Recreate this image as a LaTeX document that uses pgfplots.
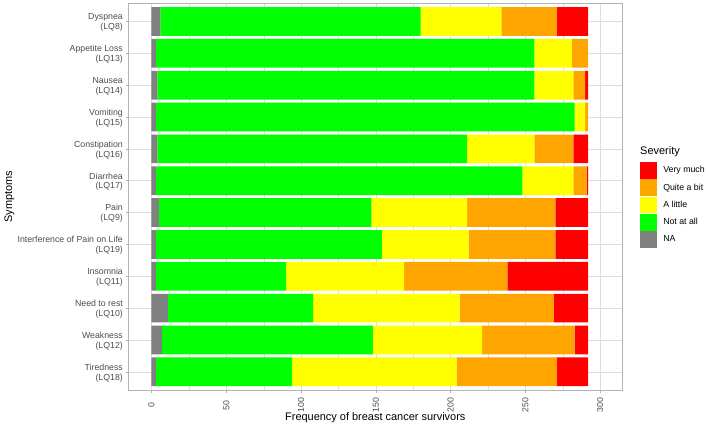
\documentclass[border=0pt]{standalone}
\usepackage{fontspec}
\setmainfont{Liberation Sans}
\usepackage{pgfplots}
\usepackage{pgfplotstable}
\pgfplotsset{compat=1.18}
\definecolor{cNA}{HTML}{808080}
\definecolor{cNot}{HTML}{00FF00}
\definecolor{cLittle}{HTML}{FFFF00}
\definecolor{cQuite}{HTML}{FFA500}
\definecolor{cVery}{HTML}{FF0000}
\definecolor{grey30}{HTML}{4D4D4D}
\definecolor{grey70}{HTML}{B3B3B3}
\definecolor{grey87}{HTML}{DEDEDE}
\pgfplotstableread{
y  NA  Not  Little  Quite  Very
0  3   91   110     67     21
1  7   141  73      62     9
2  11  97   98      63     23
3  3   87   79      69     54
4  3   151  58      58     22
5  5   142  64      59     22
6  3   245  34      9      1
7  4   207  45      26     10
8  3   280  7       2      0
9  4   252  26      8      2
10 3   253  25      11     0
11 6   174  54      37     21
}\data
\begin{document}
\begin{tikzpicture}
\path[use as bounding box] (0bp,0bp) rectangle (708bp,426bp);
\begin{axis}[
  at={(128.3bp,36bp)}, anchor=south west,
  scale only axis, width=494bp, height=386.7bp,
  xbar stacked, bar width=0.9,
  xmin=-15.5, xmax=314.8, ymin=-0.571, ymax=11.571,
  xtick={0,50,...,300}, xticklabels={0,50,100,150,200,250,300},
  minor xtick={25,75,...,275},
  ytick={0,...,11},
  yticklabels={{Tiredness\\(LQ18)},{Weakness\\(LQ12)},{Need to rest\\(LQ10)},{Insomnia\\(LQ11)},{Interference of Pain on Life\\(LQ19)},{Pain\\(LQ9)},{Diarrhea\\(LQ17)},{Constipation\\(LQ16)},{Vomiting\\(LQ15)},{Nausea\\(LQ14)},{Appetite Loss\\(LQ13)},{Dyspnea\\(LQ8)}},
  xmajorgrids, xminorgrids, ymajorgrids,
  major grid style={draw=grey87, line width=0.5bp},
  minor grid style={draw=grey87, line width=0.3bp},
  axis line style={draw=grey70, line width=0.6bp},
  tick align=outside, tick pos=left,
  major tick length=2.75bp, minor tick length=0pt,
  tick style={draw=grey70, line width=0.5bp},
  xticklabel style={yshift=-12.5bp, rotate=90, anchor=center, inner sep=0pt, font=\fontsize{8.8}{10}\selectfont, text=grey30},
  yticklabel style={align=right, anchor=east, inner xsep=0pt, xshift=-2.5bp, yshift=-1bp, font=\fontsize{8.8}{10}\selectfont, text=grey30},
  legend style={at={(1.0358,0.5904)}, anchor=north west, draw=none, fill=none,
    inner sep=0pt, outer sep=0pt, row sep=0pt,
    font=\fontsize{8.8}{10}\selectfont, text=black,
    nodes={inner sep=0pt, anchor=west}},
  legend cell align=left,
  reverse legend,
  legend image code/.code={\fill[#1] (0bp,-8.3bp) rectangle (16.6bp,8.3bp); \path[draw=none, fill=none] (0bp,-8.65bp) rectangle (23.3bp,8.65bp);},
]
\addplot[fill=cNA, draw=none] table[x=NA, y=y]{\data};
\addplot[fill=cNot, draw=none] table[x=Not, y=y]{\data};
\addplot[fill=cLittle, draw=none] table[x=Little, y=y]{\data};
\addplot[fill=cQuite, draw=none] table[x=Quite, y=y]{\data};
\addplot[fill=cVery, draw=none] table[x=Very, y=y]{\data};
\legend{NA, Not at all, A little, Quite a bit, Very much}
\end{axis}
\node[anchor=base west, inner sep=0pt, font=\fontsize{11}{13}\selectfont] at (640bp,271.4bp) {Severity};
\node[anchor=base, inner sep=0pt, font=\fontsize{11}{13}\selectfont] at (375.3bp,6bp) {Frequency of breast cancer survivors};
\node[rotate=90, anchor=center, inner sep=0pt, font=\fontsize{11}{13}\selectfont] at (9.5bp,229.3bp) {Symptoms};
\end{tikzpicture}
\end{document}
